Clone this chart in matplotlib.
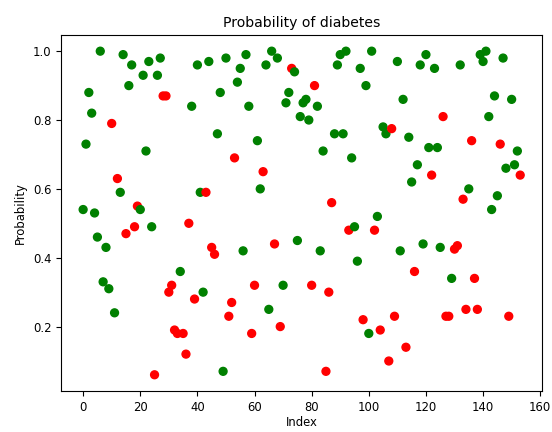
import matplotlib
matplotlib.use('Agg')
import matplotlib.pyplot as plt

# predicted probability for each test sample, colour = correct (green) / wrong (red)
index = list(range(154))

probability = [
    0.54, 0.73, 0.88, 0.82, 0.53, 0.46, 1.00, 0.33, 0.43, 0.31,
    0.79, 0.24, 0.63, 0.59, 0.99, 0.47, 0.90, 0.96, 0.49, 0.55,
    0.54, 0.93, 0.71, 0.97, 0.49, 0.06, 0.93, 0.98, 0.87, 0.87,
    0.30, 0.32, 0.19, 0.18, 0.36, 0.18, 0.12, 0.50, 0.84, 0.28,
    0.96, 0.59, 0.30, 0.59, 0.97, 0.43, 0.41, 0.76, 0.88, 0.07,
    0.98, 0.23, 0.27, 0.69, 0.91, 0.95, 0.42, 0.99, 0.84, 0.18,
    0.32, 0.74, 0.60, 0.65, 0.96, 0.25, 1.00, 0.44, 0.98, 0.20,
    0.32, 0.85, 0.88, 0.95, 0.94, 0.45, 0.81, 0.85, 0.86, 0.80,
    0.32, 0.90, 0.84, 0.42, 0.71, 0.07, 0.30, 0.56, 0.76, 0.96,
    0.99, 0.76, 1.00, 0.48, 0.69, 0.49, 0.39, 0.95, 0.22, 0.90,
    0.18, 1.00, 0.48, 0.52, 0.19, 0.78, 0.76, 0.10, 0.775, 0.23,
    0.97, 0.42, 0.86, 0.14, 0.75, 0.62, 0.36, 0.67, 0.96, 0.44,
    0.99, 0.72, 0.64, 0.95, 0.72, 0.43, 0.81, 0.23, 0.23, 0.34,
    0.425, 0.435, 0.96, 0.57, 0.25, 0.60, 0.74, 0.34, 0.25, 0.99,
    0.97, 1.00, 0.81, 0.54, 0.87, 0.58, 0.73, 0.98, 0.66, 0.23,
    0.86, 0.67, 0.71, 0.64,
]

# g = green, r = red, ten samples per row
outcome = (
    "gggggggggg"   # 0-9
    "rgrggrggrr"   # 10-19
    "gggggrggrr"   # 20-29
    "rrrrgrrrgr"   # 30-39
    "gggrgrrggg"   # 40-49
    "grrrgggggr"   # 50-59
    "rggrgggrgr"   # 60-69
    "gggrgggggg"   # 70-79
    "rrgggrrrgg"   # 80-89
    "gggrggggrg"   # 90-99
    "ggrgrggrrr"   # 100-109
    "gggrggrggg"   # 110-119
    "ggrgggrrrg"   # 120-129
    "rrgrrgrrrg"   # 130-139
    "ggggggrggr"   # 140-149
    "gggr"         # 150-153
)

color_map = {'g': 'green', 'r': 'red'}
colors = [color_map[c] for c in outcome]

plt.rcParams['font.size'] = 8.4

fig = plt.figure(figsize=(5.52, 4.32), dpi=100)
ax = fig.add_axes([0.111, 0.095, 0.871, 0.824])
ax.scatter(index, probability, c=colors, s=32)
ax.set_title('Probability of diabetes')
ax.set_xlabel('Index', labelpad=2)
ax.set_ylabel('Probability')

fig.savefig('out.png', dpi=100)
